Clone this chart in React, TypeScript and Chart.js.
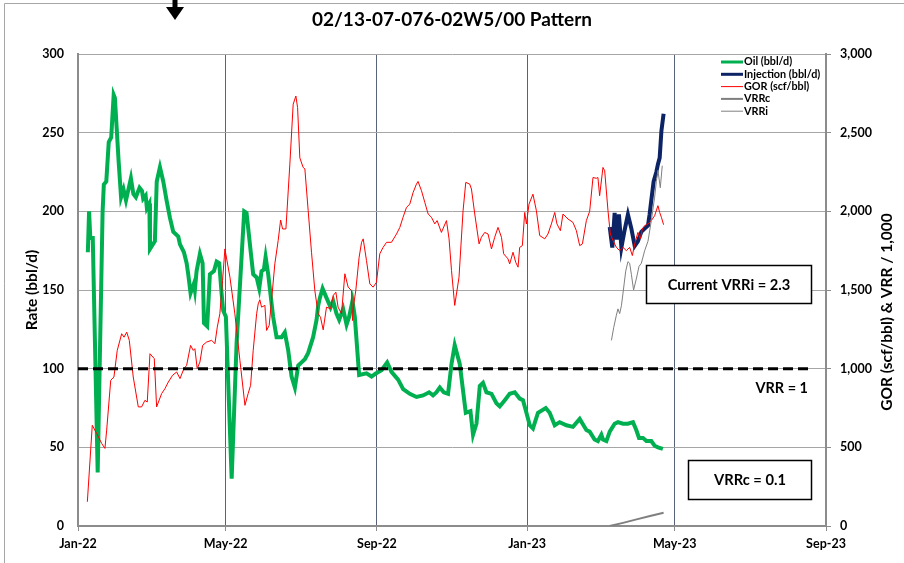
import React, { useEffect, useRef } from "react";
import { Chart, registerables } from "chart.js";

Chart.register(...registerables);

// ---------- text ----------
const TITLE = "02/13-07-076-02W5/00 Pattern";
const LEFT_AXIS_TITLE = "Rate (bbl/d)";
const RIGHT_AXIS_TITLE = "GOR (scf/bbl) & VRR / 1,000";

// x axis: days since 2022-01-01
const X_MAX_DAY = 608;
const X_TICK_DAYS = [0, 120, 243, 365, 485, 608];
const X_TICK_LABELS = ["Jan-22", "May-22", "Sep-22", "Jan-23", "May-23", "Sep-23"];

const RATE_MAX = 300;
const RATE_STEP = 50;
const GOR_MAX = 3000;
const GOR_STEP = 500;
const VRR_SCALE = 1000; // VRR is plotted on the GOR axis as VRR x 1,000

const CURRENT_VRRI = 2.3;
const CURRENT_VRRC = 0.1;
const VRR_UNITY = 1;

// ---------- series: [day since 2022-01-01, value] ----------
const oilRate: [number, number][] = [
  [8, 174], [9, 200], [10, 183], [12, 183], [16, 34], [20, 200], [21, 217], [23, 219], [25, 244], [27, 247],
  [29, 274], [30, 272], [33, 232], [35, 209], [37, 214], [39, 207], [43, 221], [45, 211], [47, 209], [50, 215],
  [52, 213], [53, 208], [55, 210], [56, 202], [58, 205], [58.5, 176], [62.5, 181], [64, 219], [66.6, 228], [69.3, 219],
  [72, 207], [74.7, 196], [77.4, 187], [81.5, 184], [82.9, 179], [86.1, 174], [88.3, 167], [89.6, 160], [91.5, 148], [94.2, 154],
  [95, 150], [96.4, 162], [99.1, 173], [101.3, 167], [102.4, 129], [105, 127], [107.2, 160], [110.5, 162], [112.7, 168], [114.8, 167],
  [116.7, 148], [118, 137], [120.2, 133], [124.9, 30], [128.9, 116], [135.1, 200], [137, 199], [140.3, 175], [142.4, 160], [145.2, 158],
  [147.3, 151], [149.2, 162], [151.1, 163], [152.5, 171], [154.6, 160], [158.6, 133], [161.4, 120], [165.5, 120], [168.1, 123], [170.8, 112],
  [173.6, 95], [176.3, 88], [179, 102], [181.7, 104], [184.4, 106], [187.1, 110], [191.1, 120], [193.9, 131], [195.2, 140], [196.6, 145],
  [198.8, 151], [202, 145], [205.3, 139], [207.4, 143], [210.1, 135], [212.3, 131], [215.5, 138], [218.3, 128], [220.4, 133], [223.1, 143],
  [225, 133], [228.5, 96], [234.5, 97], [238.6, 95], [242.1, 97], [246.7, 99], [251.3, 104], [254.8, 98], [260.2, 93], [264.3, 87],
  [269.7, 84], [275.1, 82], [280.5, 83], [285.4, 85], [288.6, 83], [291.4, 85], [294.1, 88], [297.3, 85], [300.8, 84], [303.6, 103],
  [306.2, 115], [310.3, 103], [315.2, 72], [319, 73], [321.1, 58], [323.9, 65], [326.6, 89], [329.2, 91], [332, 85], [336.1, 84],
  [340.1, 78], [342.8, 76], [346.9, 80], [350.9, 84], [355, 85], [359, 81], [361.7, 80], [364.5, 72], [367.2, 64], [369.8, 62],
  [373.9, 72], [380.2, 75], [383.4, 72], [387.5, 64], [391.5, 66], [397, 64], [402.3, 63], [407.8, 68], [413.2, 61], [415.9, 60],
  [419.9, 55], [422.6, 54], [425.4, 58], [426.7, 55], [429.5, 54], [432.2, 60], [436.2, 65], [438.9, 66], [443, 65], [447, 65],
  [451.1, 66], [453.8, 61], [456, 56], [459.2, 56], [462, 54], [466, 54], [468.7, 51], [471.4, 50], [475.4, 49],
];

const injectionRate: [number, number][] = [
  [432.2, 190], [434.3, 177], [436.2, 199], [438.1, 182], [439.7, 198], [441.7, 177], [444.3, 188], [447, 198], [449.8, 189], [452.5, 178],
  [455.1, 181], [457.9, 187], [460.6, 189], [463.3, 191], [464.6, 198], [466, 207], [467.9, 219], [470.1, 225], [471.4, 230], [472.8, 234],
  [474.2, 251], [476, 262],
];

const gorValues: [number, number][] = [
  [7.6, 154], [11.6, 640], [15.2, 588], [19.3, 524], [21.9, 493], [23.3, 609], [26.6, 926], [29.2, 947], [31.9, 1116], [35.5, 1222],
  [37.4, 1200], [39.6, 1232], [41.7, 1180], [44.9, 947], [49, 757], [51.7, 757], [54.4, 799], [56.3, 788], [58.5, 1095], [62, 1064],
  [63.9, 757], [68, 842], [70.7, 873], [73.4, 915], [76.9, 958], [80.2, 979], [82.9, 937], [86.1, 1000], [88.3, 1021], [91.5, 1148],
  [93.7, 1116], [95, 1127], [96.9, 1000], [99.1, 1042], [101.3, 1148], [104.5, 1169], [108.6, 1180], [111.3, 1159], [113.2, 1264], [115.3, 1349],
  [117.5, 1560], [119.4, 1761], [123.5, 1581], [127.5, 1349], [131.6, 1053], [135.7, 767], [138.3, 842], [140.3, 894], [142.4, 1116], [145.2, 1349],
  [146.5, 1412], [147.8, 1438], [149.2, 1391], [151.9, 1402], [153.3, 1243], [155.4, 1275], [157.3, 1433], [160, 1666], [162.7, 1814], [164.7, 1945],
  [166.3, 1888], [169, 1888], [172.2, 2300], [174.9, 2681], [177.1, 2733], [178.5, 2659], [180.3, 2340], [183, 2279], [184.4, 2270], [187.1, 2004],
  [189.8, 1740], [192.5, 1497], [195.2, 1349], [197.1, 1327], [199.3, 1247], [202, 1391], [205.3, 1381], [207.4, 1465], [209.6, 1486], [211.4, 1391],
  [214.2, 1349], [216.9, 1603], [219.6, 1518], [222.3, 1497], [223.1, 1306], [224.2, 1412], [225.8, 1497], [228.5, 1708], [230.5, 1803], [231.8, 1825],
  [234.5, 1687], [237.2, 1539], [239.9, 1518], [242.6, 1549], [245.3, 1730], [248, 1771], [250.8, 1803], [254.8, 1803], [258.9, 1856], [261.6, 1898],
  [264.2, 1962], [267, 2025], [269.7, 2046], [272.4, 2120], [275.1, 2173], [276.4, 2190], [279.2, 2131], [281.9, 2057], [284.6, 1983], [287.3, 1962],
  [290, 1920], [291.9, 1941], [295.4, 1866], [299.5, 1941], [301.6, 1825], [303.6, 1624], [306.2, 1402], [309.7, 1581], [313, 2004], [315.2, 2184],
  [318.4, 2173], [319.8, 2142], [322.5, 1983], [326, 1793], [327.9, 1835], [330.6, 1866], [333.3, 1856], [336.1, 1761], [338.7, 1835], [341.4, 1898],
  [344.2, 1835], [346, 1730], [349.5, 1698], [350.9, 1666], [353.6, 1740], [355.8, 1676], [357.7, 1645], [359, 1771], [361.2, 1782], [363.1, 1993],
  [364.5, 1920], [366.6, 2046], [369.8, 2109], [372.6, 2004], [375.3, 1846], [379.4, 1825], [382, 1856], [384.8, 1920], [387.5, 1993], [389.3, 1920],
  [392.1, 1877], [394.2, 1983], [398.3, 1951], [402.3, 1930], [405.1, 1877], [407.8, 1782], [410, 1793], [413.2, 1941], [415.9, 2000], [418.6, 2215],
  [421.3, 2210], [422.6, 2215], [424, 2099], [426.7, 2279], [428.1, 2258], [430.8, 2004], [432.7, 1856], [434.9, 1814], [437.6, 1771], [440.3, 1750],
  [443, 1771], [445.7, 1750], [448.4, 1771], [450.6, 1719], [452.5, 1793], [455.1, 1866], [457.1, 1825], [458.7, 1888], [460.6, 1909], [463.3, 1920],
  [466, 1941], [468.7, 1972], [471.4, 2036], [472.8, 1993], [474.2, 1962], [476, 1915],
];

const vrrcValues: [number, number][] = [
  [432.2, 0.0], [443, 0.02], [454, 0.042], [465, 0.063], [476, 0.084],
];

const vrriValues: [number, number][] = [
  [433.6, 1.18], [435.4, 1.26], [437.6, 1.34], [438.9, 1.38], [440.3, 1.35], [441.7, 1.4], [443, 1.48], [445.2, 1.62], [447, 1.68], [448.4, 1.67],
  [449.8, 1.6], [451.6, 1.5], [453.8, 1.57], [456, 1.65], [457.9, 1.67], [460.6, 1.75], [463.3, 1.81], [466, 1.94], [468.7, 2.09], [470.1, 2.19],
  [471.4, 2.26], [473.3, 2.15], [474.9, 2.29],
];

const vrrUnityDays = [0, 596];

// ---------- styles ----------
const FONT = "Lato, 'Open Sans', 'DejaVu Sans', sans-serif";
const OIL_COLOR = "#00b050";
const INJ_COLOR = "#0c2466";
const GOR_COLOR = "#ff0000";
const VRRC_COLOR = "#7f7f7f";
const VRRI_COLOR = "#808080";

const legendEntries = [
  { label: "Oil (bbl/d)", color: OIL_COLOR, width: 3 },
  { label: "Injection (bbl/d)", color: INJ_COLOR, width: 3 },
  { label: "GOR (scf/bbl)", color: GOR_COLOR, width: 1 },
  { label: "VRRc", color: VRRC_COLOR, width: 2 },
  { label: "VRRi", color: VRRI_COLOR, width: 1 },
];

const toPts = (arr: [number, number][], k = 1) => arr.map(([x, y]) => ({ x, y: y * k }));

const decorPlugin = {
  id: "decor",
  beforeDraw(chart: any) {
    const { ctx, width, height } = chart;
    ctx.save();
    ctx.fillStyle = "#ffffff";
    ctx.fillRect(0, 0, width, height);
    // frame
    ctx.strokeStyle = "#a6a6a6";
    ctx.lineWidth = 1;
    ctx.beginPath();
    ctx.moveTo(4.5, height);
    ctx.lineTo(4.5, 3.5);
    ctx.lineTo(width, 3.5);
    ctx.stroke();
    // arrow
    ctx.fillStyle = "#000";
    ctx.fillRect(172.5, 0, 5, 8);
    ctx.beginPath();
    ctx.moveTo(166, 7);
    ctx.lineTo(184, 7);
    ctx.lineTo(175, 20);
    ctx.closePath();
    ctx.fill();
    // title
    ctx.fillStyle = "#000";
    ctx.font = `bold 19px ${FONT}`;
    ctx.textAlign = "center";
    ctx.textBaseline = "middle";
    const ca = chart.chartArea;
    ctx.fillText(TITLE, (ca.left + ca.right) / 2, 20);
    // axis titles
    ctx.font = `bold 15.5px ${FONT}`;
    const midY = (ca.top + ca.bottom) / 2;
    ctx.save();
    ctx.translate(32, midY);
    ctx.rotate(-Math.PI / 2);
    ctx.fillText(LEFT_AXIS_TITLE, 0, 0);
    ctx.restore();
    ctx.save();
    ctx.translate(887, midY + 22);
    ctx.rotate(-Math.PI / 2);
    ctx.fillText(RIGHT_AXIS_TITLE, 0, 0);
    ctx.restore();
    ctx.restore();
  },
  afterDatasetsDraw(chart: any) {
    const { ctx } = chart;
    ctx.save();
    // legend
    ctx.font = `bold 10.8px ${FONT}`;
    ctx.textAlign = "left";
    ctx.textBaseline = "middle";
    legendEntries.forEach((e, i) => {
      const y = 62 + i * 12.3;
      ctx.strokeStyle = e.color;
      ctx.lineWidth = e.width;
      ctx.beginPath();
      ctx.moveTo(721, y);
      ctx.lineTo(743, y);
      ctx.stroke();
      ctx.fillStyle = "#000";
      ctx.fillText(e.label, 744, y);
    });
    // boxes
    const box = (x: number, y: number, w: number, h: number, text: string) => {
      ctx.fillStyle = "#fff";
      ctx.fillRect(x, y, w, h);
      ctx.strokeStyle = "#000";
      ctx.lineWidth = 1.5;
      ctx.strokeRect(x, y, w, h);
      ctx.fillStyle = "#000";
      ctx.font = `bold 14.7px ${FONT}`;
      ctx.textAlign = "center";
      ctx.textBaseline = "middle";
      ctx.fillText(text, x + w / 2, y + h / 2 + 0.5);
    };
    box(646.5, 265.5, 165, 38, `Current VRRi = ${CURRENT_VRRI}`);
    box(688.5, 460.5, 123, 39, `VRRc = ${CURRENT_VRRC}`);
    ctx.font = `bold 14.5px ${FONT}`;
    ctx.textAlign = "right";
    ctx.textBaseline = "middle";
    ctx.fillStyle = "#000";
    ctx.fillText(`VRR = ${VRR_UNITY}`, 808, 388);
    ctx.restore();
  },
};

export default function App() {
  const ref = useRef<HTMLCanvasElement | null>(null);
  useEffect(() => {
    if (!ref.current) return;
    const tickFont = { family: FONT, size: 12.5, weight: "bold" as const };
    const chart = new Chart(ref.current, {
      type: "line",
      data: {
        datasets: [
          {
            label: "VRR = 1",
            data: vrrUnityDays.map((d) => ({ x: d, y: VRR_UNITY * VRR_SCALE })),
            yAxisID: "y2",
            borderColor: "#000",
            borderWidth: 3,
            borderDash: [10, 5],
            pointRadius: 0,
            order: 0,
          },
          {
            label: "VRRi",
            data: toPts(vrriValues, VRR_SCALE),
            yAxisID: "y2",
            borderColor: VRRI_COLOR,
            borderWidth: 1,
            pointRadius: 0,
            order: 1,
          },
          {
            label: "VRRc",
            data: toPts(vrrcValues, VRR_SCALE),
            yAxisID: "y2",
            borderColor: VRRC_COLOR,
            borderWidth: 2,
            pointRadius: 0,
            order: 2,
          },
          {
            label: "GOR (scf/bbl)",
            data: toPts(gorValues),
            yAxisID: "y2",
            borderColor: GOR_COLOR,
            borderWidth: 1,
            pointRadius: 0,
            order: 3,
          },
          {
            label: "Injection (bbl/d)",
            data: toPts(injectionRate),
            yAxisID: "y",
            borderColor: INJ_COLOR,
            borderWidth: 4,
            pointRadius: 0,
            order: 4,
          },
          {
            label: "Oil (bbl/d)",
            data: toPts(oilRate),
            yAxisID: "y",
            borderColor: OIL_COLOR,
            borderWidth: 4,
            pointRadius: 0,
            order: 5,
          },
        ],
      },
      options: {
        animation: false,
        responsive: false,
        events: [],
        layout: { padding: { top: 54, left: 0, right: 0, bottom: 0 } },
        plugins: { legend: { display: false }, tooltip: { enabled: false }, title: { display: false } },
        scales: {
          x: {
            type: "linear",
            min: 0,
            max: X_MAX_DAY,
            afterBuildTicks: (s: any) => {
              s.ticks = X_TICK_DAYS.map((v) => ({ value: v }));
            },
            afterFit: (s: any) => {
              s.height = 37;
            },
            ticks: {
              autoSkip: false,
              maxRotation: 0,
              padding: 5,
              color: "#000",
              font: tickFont,
              callback: (v: any) => {
                const i = X_TICK_DAYS.indexOf(Number(v));
                return i >= 0 ? X_TICK_LABELS[i] : "";
              },
            },
            grid: { color: "#58627a", lineWidth: 1, tickLength: 5, tickColor: "#8c8c8c" },
            border: { color: "#8c8c8c", width: 2 },
          },
          y: {
            position: "left",
            min: 0,
            max: RATE_MAX,
            afterFit: (s: any) => {
              s.width = 78;
            },
            ticks: { stepSize: RATE_STEP, padding: 14, color: "#000", font: tickFont },
            grid: { color: "#a6a6a6", lineWidth: 1, drawTicks: false },
            border: { color: "#8c8c8c", width: 2 },
          },
          y2: {
            position: "right",
            min: 0,
            max: GOR_MAX,
            afterFit: (s: any) => {
              s.width = 78;
            },
            ticks: {
              stepSize: GOR_STEP,
              padding: 9,
              color: "#000",
              font: tickFont,
              callback: (v: any) => Number(v).toLocaleString("en-US"),
            },
            grid: { drawOnChartArea: false, tickLength: 5, color: "#8c8c8c" },
            border: { color: "#8c8c8c", width: 2 },
          },
        },
      },
      plugins: [decorPlugin],
    } as any);
    return () => chart.destroy();
  }, []);
  return (
    <div style={{ position: "absolute", left: 0, top: 0, width: 904, height: 563 }}>
      <canvas ref={ref} width={904} height={563} style={{ display: "block", width: 904, height: 563 }} />
    </div>
  );
}
